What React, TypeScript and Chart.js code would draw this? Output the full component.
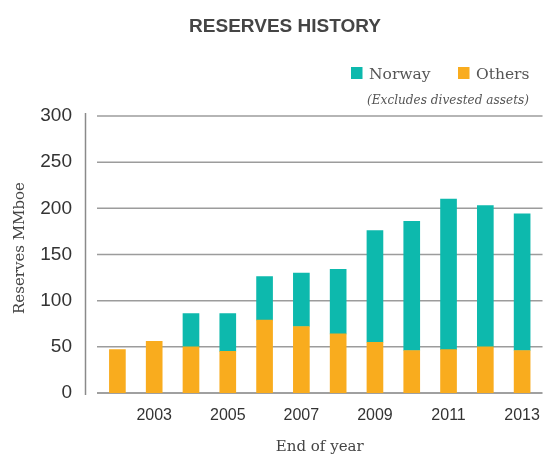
import React, { useEffect, useRef } from 'react';
import { Chart, registerables } from 'chart.js';

Chart.register(...registerables);

const years = ['2002', '2003', '2004', '2005', '2006', '2007', '2008', '2009', '2010', '2011', '2012', '2013'];
const others = [47, 56, 50, 45, 79, 72, 64, 55, 46, 47, 50, 46];
const norway = [null, null, 36, 41, 47, 58, 70, 121, 140, 163, 153, 148];
const yTicks = [0, 50, 100, 150, 200, 250, 300];
const seriesNames = ['Norway', 'Others'];
const titleText = 'RESERVES HISTORY';
const noteText = '(Excludes divested assets)';
const yTitleText = 'Reserves MMboe';
const xTitleText = 'End of year';

const TEAL = '#0db9ad';
const ORANGE = '#f9ac1e';
const SANS = "'Liberation Sans', Arial, sans-serif";
const SERIF = "'DejaVu Serif', serif";

const deco = {
  id: 'deco',
  beforeDatasetsDraw(chart: any) {
    const { ctx, chartArea, scales } = chart;
    const y = scales.y;
    ctx.save();
    yTicks.forEach((v) => {
      const py = y.getPixelForValue(v);
      ctx.beginPath();
      ctx.strokeStyle = v === 0 ? '#808080' : '#9c9c9c';
      ctx.lineWidth = 1.5;
      ctx.moveTo(chartArea.left - 2, py);
      ctx.lineTo(chartArea.right + 2, py);
      ctx.stroke();
    });
    // separate vertical axis line
    ctx.beginPath();
    ctx.strokeStyle = '#8a8a8a';
    ctx.lineWidth = 1.5;
    ctx.moveTo(85.5, y.getPixelForValue(300) - 3);
    ctx.lineTo(85.5, y.getPixelForValue(0) + 2);
    ctx.stroke();
    ctx.restore();
  },
  afterDraw(chart: any) {
    const { ctx, chartArea } = chart;
    ctx.save();
    // title
    ctx.fillStyle = '#454545';
    ctx.font = `bold 19px ${SANS}`;
    ctx.textAlign = 'center';
    ctx.textBaseline = 'alphabetic';
    ctx.fillText(titleText, 285, 32);

    // legend
    const colors = [TEAL, ORANGE];
    const xs = [351, 458];
    ctx.font = `15.5px ${SERIF}`;
    ctx.textAlign = 'left';
    seriesNames.forEach((n, i) => {
      ctx.fillStyle = colors[i];
      ctx.fillRect(xs[i], 67, 11.5, 12);
      ctx.fillStyle = '#555';
      ctx.fillText(n, xs[i] + 18, 79);
    });
    ctx.font = `italic 13px ${SERIF}`;
    ctx.textAlign = 'right';
    ctx.fillStyle = '#555';
    ctx.fillText(noteText, 529, 104, 162);

    // axis titles
    ctx.font = `15px ${SERIF}`;
    ctx.fillStyle = '#444';
    ctx.textAlign = 'center';
    ctx.fillText(xTitleText, (chartArea.left + chartArea.right) / 2, 451);
    ctx.save();
    ctx.translate(24, 248);
    ctx.rotate(-Math.PI / 2);
    ctx.textBaseline = 'alphabetic';
    ctx.fillText(yTitleText, 0, 0);
    ctx.restore();
    ctx.restore();
  },
};

export default function App() {
  const ref = useRef<HTMLCanvasElement>(null);
  useEffect(() => {
    if (!ref.current) return;
    const chart = new Chart(ref.current, {
      type: 'bar',
      data: {
        labels: years,
        datasets: [
          { label: seriesNames[1], data: others, backgroundColor: ORANGE, barThickness: 16, borderWidth: 0 },
          { label: seriesNames[0], data: norway as any, backgroundColor: TEAL, barThickness: 16, borderWidth: 0 },
        ],
      },
      options: {
        responsive: false,
        animation: false,
        layout: { padding: { top: 116, right: 2, bottom: 0, left: 0 } },
        plugins: { legend: { display: false }, title: { display: false }, tooltip: { enabled: false } },
        scales: {
          x: {
            stacked: true,
            grid: { display: false, drawTicks: false },
            border: { display: false },
            ticks: {
              autoSkip: false,
              maxRotation: 0,
              padding: 13,
              color: '#333',
              font: { family: SANS, size: 16 },
              callback: (_v: any, i: number) => (i % 2 === 1 ? years[i] : ''),
            },
            afterFit: (s: any) => { s.height = 65; },
          },
          y: {
            stacked: true,
            min: 0,
            max: 300,
            grid: { display: false, drawTicks: false },
            border: { display: false },
            ticks: {
              stepSize: 50,
              padding: 27,
              color: '#333',
              font: { family: SANS, size: 19 },
            },
            afterFit: (s: any) => { s.width = 99; },
          },
        },
      },
      plugins: [deco],
    });
    return () => chart.destroy();
  }, []);
  return (
    <div style={{ position: 'absolute', left: 0, top: 0, width: 553, height: 458, background: '#fff' }}>
      <canvas ref={ref} width={553} height={458} style={{ display: 'block' }} />
    </div>
  );
}
